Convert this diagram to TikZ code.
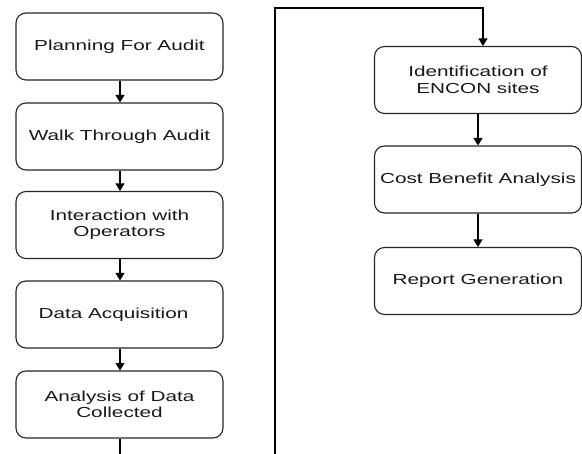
\documentclass[tikz,border=0pt]{standalone}
\usepackage{fontspec}
\setmainfont{Liberation Sans}[FakeStretch=1.43]
\usetikzlibrary{arrows.meta}
\tikzset{
  stepbox/.style={draw=black!85, rounded corners=10pt, line width=1.1pt,
    minimum width=207pt, minimum height=67pt, align=center, inner sep=0pt,
    text=black!90, font=\fontsize{14.5}{16.5}\selectfont},
  arr/.style={draw=black, line width=1.3pt, -{Triangle[width=9pt,length=7.5pt]}}
}
\begin{document}
\begin{tikzpicture}[x=1pt,y=-1pt]
\useasboundingbox (0,0) rectangle (582,454);
\fill[white] (0,0) rectangle (582,454);
\clip (0,0) rectangle (582,454);
\node[stepbox] (b1) at (119.5,46.5) {Planning For Audit};
\node[stepbox] (b2) at (119.5,136.5) {Walk Through Audit};
\node[stepbox] (b3) at (119.5,225) {Interaction with\\Operators};
\node[stepbox] (b4) at (119.5,314.5) {Data Acquisition\hspace*{12pt}};
\node[stepbox] (b5) at (119.5,404.5) {Analysis of Data\\Collected};
\node[stepbox] (r1) at (478,80) {Identification of\\ENCON sites};
\node[stepbox] (r2) at (478,179.5) {Cost Benefit Analysis};
\node[stepbox] (r3) at (478,281) {Report Generation};
\coordinate (c1) at (120,480);
\coordinate (c2) at (275,480);
\coordinate (c3) at (275,8);
\coordinate (c4) at (483,8);
\draw[arr] (b1.south -| 120,0) -- (b2.north -| 120,0);
\draw[arr] (b2.south -| 120,0) -- (b3.north -| 120,0);
\draw[arr] (b3.south -| 120,0) -- (b4.north -| 120,0);
\draw[arr] (b4.south -| 120,0) -- (b5.north -| 120,0);
\draw[arr] (b5.south -| 120,0) -- (c1) -- (c2) -- (c3) -- (c4) -- (r1.north -| c4);
\draw[arr] (r1.south) -- (r2.north);
\draw[arr] (r2.south) -- (r3.north);
\end{tikzpicture}
\end{document}
